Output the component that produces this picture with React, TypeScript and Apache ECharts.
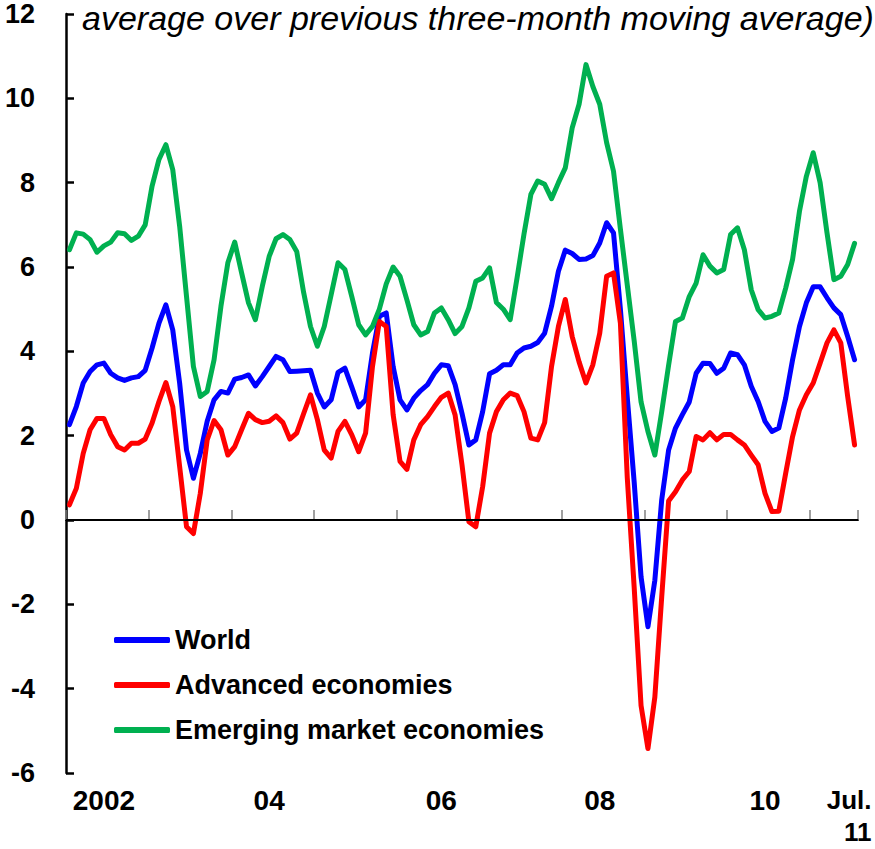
import React, { useEffect, useRef } from "react";
import * as echarts from "echarts";

// Monthly data, Jan 2002 - Jul 2011
const years = [2002, 2003, 2004, 2005, 2006, 2007, 2008, 2009, 2010, 2011];
const lastYearMonths = 7;

const world = [
  2.26, 2.69, 3.25, 3.52, 3.68, 3.72, 3.48, 3.37, 3.31, 3.37, 3.4, 3.55,
  4.08, 4.67, 5.1, 4.51, 3.25, 1.66, 0.99, 1.58, 2.34, 2.85, 3.05, 3.01,
  3.34, 3.38, 3.44, 3.18, 3.4, 3.64, 3.88, 3.8, 3.52, 3.53, 3.54, 3.55,
  3.01, 2.68, 2.85, 3.5, 3.6, 3.15, 2.68, 2.85, 3.96, 4.83, 4.91, 3.64,
  2.85, 2.61, 2.89, 3.07, 3.21, 3.48, 3.68, 3.66, 3.21, 2.53, 1.78, 1.9,
  2.57, 3.47, 3.55, 3.68, 3.68, 3.96, 4.08, 4.12, 4.21, 4.43, 5.07, 5.9,
  6.4, 6.32, 6.18, 6.19, 6.27, 6.57, 7.05, 6.81, 5.0, 2.9, 0.9, -1.35,
  -2.53, -1.43, 0.48, 1.66, 2.18, 2.5, 2.8, 3.48, 3.72, 3.71, 3.48, 3.6,
  3.96, 3.92, 3.68, 3.17, 2.81, 2.34, 2.1, 2.18, 2.89, 3.8, 4.59, 5.15,
  5.53, 5.53, 5.27, 5.03, 4.87, 4.35, 3.8,
];

const advanced = [
  0.36, 0.75, 1.58, 2.14, 2.41, 2.41, 2.02, 1.74, 1.66, 1.82, 1.82, 1.92,
  2.3, 2.81, 3.26, 2.69, 1.27, -0.16, -0.32, 0.63, 1.9, 2.36, 2.14, 1.54,
  1.74, 2.14, 2.53, 2.38, 2.31, 2.34, 2.47, 2.31, 1.92, 2.06, 2.52, 2.97,
  2.38, 1.66, 1.47, 2.1, 2.34, 2.02, 1.62, 2.06, 3.64, 4.71, 4.59, 2.5,
  1.39, 1.2, 1.9, 2.26, 2.45, 2.69, 2.91, 3.01, 2.49, 1.31, -0.04, -0.16,
  0.79, 2.06, 2.57, 2.85, 3.01, 2.95, 2.57, 1.94, 1.9, 2.31, 3.64, 4.59,
  5.23, 4.35, 3.75, 3.25, 3.68, 4.43, 5.78, 5.86, 4.67, 1.0, -1.6, -4.4,
  -5.42, -4.2, -1.82, 0.45, 0.67, 0.95, 1.15, 1.98, 1.9, 2.07, 1.9, 2.03,
  2.03, 1.9, 1.78, 1.54, 1.31, 0.63, 0.2, 0.21, 1.11, 1.98, 2.61, 2.97,
  3.25, 3.72, 4.2, 4.51, 4.2, 2.93, 1.78,
];

const emerging = [
  6.41, 6.81, 6.78, 6.65, 6.35, 6.5, 6.59, 6.81, 6.79, 6.63, 6.73, 7.0,
  7.92, 8.55, 8.9, 8.31, 6.97, 5.3, 3.64, 2.93, 3.05, 3.8, 5.07, 6.1,
  6.59, 5.86, 5.15, 4.75, 5.54, 6.25, 6.67, 6.77, 6.65, 6.37, 5.4, 4.59,
  4.12, 4.59, 5.34, 6.1, 5.94, 5.3, 4.63, 4.39, 4.59, 5.0, 5.6, 6.0,
  5.78, 5.22, 4.63, 4.39, 4.47, 4.91, 5.03, 4.75, 4.42, 4.59, 5.03, 5.66,
  5.74, 5.98, 5.16, 5.0, 4.75, 5.75, 6.78, 7.72, 8.04, 7.96, 7.62, 8.0,
  8.35, 9.3, 9.86, 10.8, 10.28, 9.86, 8.95, 8.27, 6.9, 5.57, 4.25, 2.8,
  2.1, 1.54, 2.57, 3.67, 4.71, 4.79, 5.3, 5.62, 6.29, 6.02, 5.86, 5.94,
  6.77, 6.93, 6.41, 5.46, 4.99, 4.79, 4.83, 4.91, 5.5, 6.18, 7.32, 8.15,
  8.71, 8.0, 6.81, 5.7, 5.78, 6.06, 6.56,
];

const seriesNames = ["World", "Advanced economies", "Emerging market economies"];
const seriesColors = ["#0000FF", "#FF0000", "#00B050"];

const xLabelAt = ["2002-06", "2004-06", "2006-07", "2008-06", "2010-06", "2011-07"];
const xLabelText = ["2002", "04", "06", "08", "10", "Jul.\n11"];

const yMin = -6;
const yMax = 12;
const yStep = 2;

const titleText = "average over previous three-month moving average)";

const categories: string[] = [];
years.forEach((y, yi) => {
  const n = yi === years.length - 1 ? lastYearMonths : 12;
  for (let m = 1; m <= n; m++) categories.push(`${y}-${String(m).padStart(2, "0")}`);
});

const FONT = "'Liberation Sans', Arial, sans-serif";

export default function App() {
  const ref = useRef<HTMLDivElement>(null);

  useEffect(() => {
    if (!ref.current) return;
    const chart = echarts.init(ref.current, undefined, { renderer: "svg" });
    const labelMap: Record<string, string> = {};
    xLabelAt.forEach((c, i) => {
      const t = xLabelText[i];
      labelMap[c] = t.includes("\n")
        ? t
            .split("\n")
            .map((s) => `{r|${s}}`)
            .join("\n")
        : t;
    });
    const dataSets = [world, advanced, emerging];

    chart.setOption({
      animation: false,
      backgroundColor: "#ffffff",
      textStyle: { fontFamily: FONT },
      grid: {
        left: 66,
        right: 17,
        top: 14,
        bottom: 76,
        containLabel: false,
        outerBoundsMode: "none",
      },
      legend: {
        data: seriesNames,
        orient: "vertical",
        left: 109,
        top: 620,
        itemWidth: 56,
        itemHeight: 6,
        itemGap: 15,
        icon: "roundRect",
        textStyle: {
          fontFamily: FONT,
          fontSize: 27,
          fontWeight: 700,
          color: "#000",
          lineHeight: 30,
        },
      },
      xAxis: {
        type: "category",
        data: categories,
        boundaryGap: true,
        axisLine: { show: true, lineStyle: { color: "#000", width: 2 } },
        axisTick: {
          show: true,
          inside: true,
          length: 10,
          interval: (index: number) => index % 12 === 0,
          lineStyle: { color: "#808080", width: 1.5 },
        },
        axisLabel: {
          interval: (index: number, value: string) => value in labelMap,
          formatter: (value: string) => labelMap[value] || "",
          fontFamily: FONT,
          fontSize: 28,
          fontWeight: 700,
          color: "#000",
          lineHeight: 32,
          margin: 11,
          rich: {
            r: {
              fontFamily: FONT,
              fontSize: 26,
              fontWeight: 700,
              color: "#000",
              lineHeight: 32,
              width: 46,
              align: "right",
              padding: [0, 12, 0, 0],
            },
          },
        },
        splitLine: { show: false },
      },
      yAxis: {
        type: "value",
        min: yMin,
        max: yMax,
        interval: yStep,
        axisLine: { show: true, lineStyle: { color: "#000", width: 2.5 } },
        axisTick: { show: true, inside: true, length: 8, lineStyle: { color: "#000", width: 2.5 } },
        axisLabel: {
          fontFamily: FONT,
          fontSize: 27,
          fontWeight: 700,
          color: "#000",
          margin: 31,
        },
        splitLine: { show: false },
      },
      graphic: [
        {
          type: "text",
          x: 82,
          y: 18,
          style: {
            text: titleText,
            fontFamily: FONT,
            fontSize: 34,
            fontStyle: "italic",
            fill: "#000",
            verticalAlign: "middle",
            align: "left",
          },
        },
      ],
      series: seriesNames.map((name, i) => ({
        name,
        type: "line",
        data: dataSets[i],
        symbol: "none",
        showSymbol: false,
        color: seriesColors[i],
        lineStyle: { color: seriesColors[i], width: 5, cap: "round", join: "round" },
        z: 2 + i,
        markLine:
          i === 0
            ? {
                silent: true,
                symbol: "none",
                label: { show: false },
                lineStyle: { color: "#000", width: 2, type: "solid" },
                data: [{ yAxis: 0 }],
              }
            : undefined,
      })),
    });

    return () => chart.dispose();
  }, []);

  return (
    <div
      ref={ref}
      style={{ position: "absolute", left: 0, top: 0, width: 875, height: 849 }}
    />
  );
}
